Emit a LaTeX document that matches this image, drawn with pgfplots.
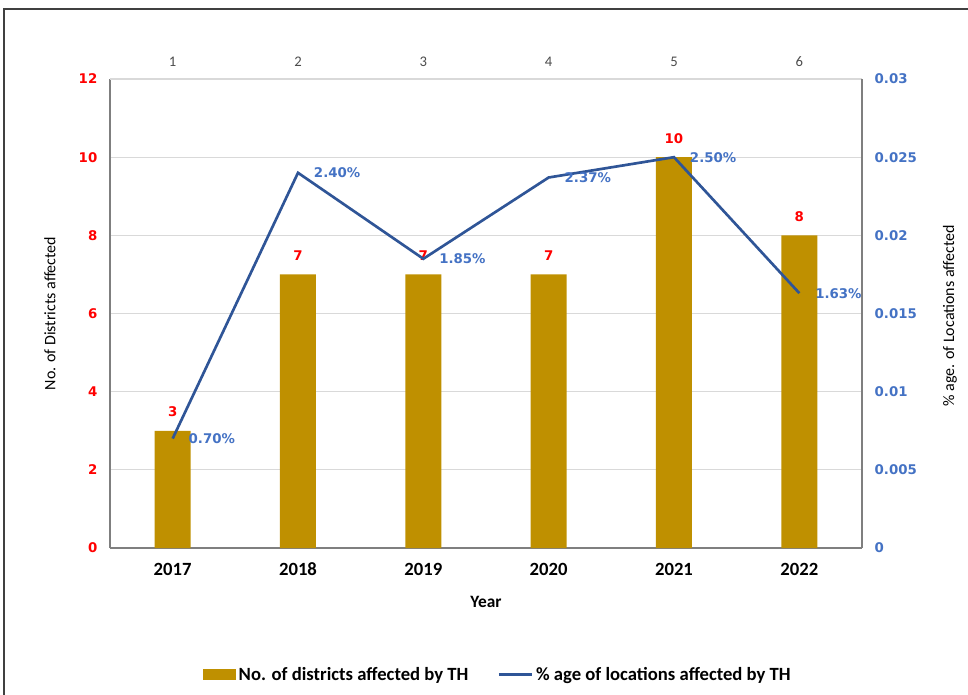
\documentclass[border=0pt]{standalone}
\usepackage{pgfplots}
\pgfplotsset{compat=1.18}
\usepackage{fontspec}
\setmainfont{Carlito}
\newfontfamily\verd{DejaVu Sans}
\definecolor{barc}{HTML}{BF9000}
\definecolor{linec}{HTML}{2F5597}
\definecolor{lblue}{HTML}{4472C4}
\definecolor{tred}{HTML}{FF0000}
\definecolor{gridc}{HTML}{D9D9D9}
\definecolor{axc}{HTML}{7F7F7F}
\begin{document}
\begin{tikzpicture}
\path[use as bounding box] (0pt,0pt) rectangle (726pt,520.5pt);
\draw[color=black!75, line width=1.2pt] (3pt,-30pt) -- (3pt,513.75pt) -- (760pt,513.75pt);
\begin{axis}[
  at={(82.5pt,109.5pt)}, anchor=south west,
  scale only axis, width=564pt, height=351.75pt,
  /pgf/number format/assume math mode=true,
  xmin=-0.5, xmax=5.5, ymin=0, ymax=12,
  axis y line*=left, axis x line*=bottom,
  x axis line style={axc, line width=0.8pt},
  y axis line style={axc, line width=0.8pt},
  xtick={0,...,5}, xticklabels={2017,2018,2019,2020,2021,2022},
  ytick={0,2,...,12},
  major tick length=0pt,
  ymajorgrids, grid style={gridc, line width=0.8pt},
  xticklabel style={font=\fontsize{14}{16}\selectfont\bfseries, text height=9pt, text depth=0pt, yshift=-8pt},
  yticklabel style={font=\verd\fontsize{10}{12}\selectfont\bfseries, text=tred, xshift=-6pt},
  xlabel={Year},
  xlabel style={font=\fontsize{13}{15}\selectfont\bfseries, at={(axis description cs:0.5,-0.115)}, anchor=center},
  ylabel={No. of Districts affected},
  ylabel style={font=\fontsize{12}{14}\selectfont, at={(axis description cs:-0.0798,0.5)}, anchor=center},
  legend style={at={(axis description cs:0.516,-0.27)}, anchor=center, draw=none, legend columns=2,
    font=\fontsize{14}{16}\selectfont\bfseries, /tikz/every even column/.append style={column sep=20pt}},
  legend cell align=left,
]
\addplot[ybar, bar width=27pt, fill=barc, draw=none,
  nodes near coords, every node near coord/.append style={font=\verd\fontsize{10}{12}\selectfont\bfseries, text=tred, inner sep=0pt, yshift=10pt},
  legend image code/.code={\fill[barc] (0pt,-4pt) rectangle (25pt,4pt);}]
  coordinates {(0,3) (1,7) (2,7) (3,7) (4,10) (5,8)};
\addlegendentry{No. of districts affected by TH}
\addlegendimage{line legend, linec, line width=1.8pt, legend image code/.code={\draw[linec, line width=1.8pt] (0pt,0pt) -- (25pt,0pt);}}
\addlegendentry{\% age of locations affected by TH}
\end{axis}
\begin{axis}[
  at={(82.5pt,109.5pt)}, anchor=south west,
  scale only axis, width=564pt, height=351.75pt,
  /pgf/number format/assume math mode=true,
  scaled y ticks=false,
  xmin=-0.5, xmax=5.5, ymin=0, ymax=0.03,
  axis y line*=right, axis x line*=top,
  x axis line style={gridc, line width=0.8pt},
  y axis line style={axc, line width=0.8pt},
  xtick={0,...,5}, xticklabels={1,2,3,4,5,6},
  ytick={0,0.005,0.01,0.015,0.02,0.025,0.03},
  yticklabels={0,0.005,0.01,0.015,0.02,0.025,0.03},
  major tick length=0pt,
  xticklabel style={font=\fontsize{11}{13}\selectfont, text=black!70, yshift=6pt},
  yticklabel style={font=\verd\fontsize{10}{12}\selectfont\bfseries, text=lblue, xshift=6pt},
  ylabel={\% age. of Locations affected},
  ylabel style={font=\fontsize{12}{14}\selectfont, at={(axis description cs:1.117,0.495)}, anchor=center},
]
\addplot[linec, line width=2pt, mark=none,
  nodes near coords, point meta=explicit symbolic,
  every node near coord/.append style={font=\verd\fontsize{10}{12}\selectfont\bfseries, text=lblue, anchor=west, inner sep=0pt, xshift=11pt}]
  coordinates {(0,0.0070)[0.70\%] (1,0.0240)[2.40\%] (2,0.0185)[1.85\%] (3,0.0237)[\raisebox{-7pt}{2.37\%}] (4,0.0250)[2.50\%] (5,0.0163)[1.63\%]};
\end{axis}
\end{tikzpicture}
\end{document}
